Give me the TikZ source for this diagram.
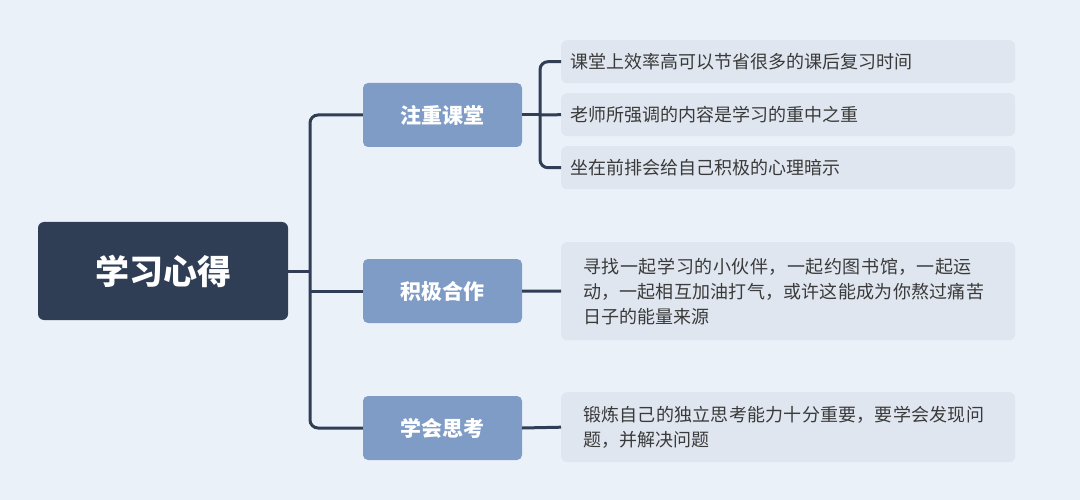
\documentclass[tikz,border=0pt]{standalone}
\usepackage{fontspec}
\setmainfont{Noto Sans CJK SC}
\XeTeXlinebreaklocale "zh"
\XeTeXlinebreakskip=0pt plus 1pt
\begin{document}
\begin{tikzpicture}[x=1pt,y=-1pt,
  line/.style={draw=linec,line width=3pt,rounded corners=8pt},
  root/.style={fill=rootc,rounded corners=6pt,text=white,font=\fontsize{34}{40}\selectfont\bfseries,minimum width=250pt,minimum height=98pt,inner sep=0},
  br/.style={fill=brc,rounded corners=5pt,text=white,font=\fontsize{21}{25}\selectfont\bfseries,minimum width=159pt,minimum height=64pt,inner sep=0},
  leaf/.style={fill=leafc,rounded corners=6pt,text=textc,font=\fontsize{18}{25}\selectfont,minimum width=454pt,inner xsep=9pt,inner ysep=0pt,anchor=north west,text width=436pt,align=left}]
\definecolor{bg}{HTML}{EBF1F9}
\definecolor{linec}{HTML}{2F3E55}
\definecolor{rootc}{HTML}{2F3E55}
\definecolor{brc}{HTML}{7F9CC6}
\definecolor{leafc}{HTML}{DFE6EF}
\definecolor{textc}{HTML}{3A3A3A}
\fill[bg] (0,0) rectangle (1080,500);
\useasboundingbox (0,0) rectangle (1080,500);
\node[root] (r) at (163,271) {学习心得};
\node[br] (b1) at (442.5,115) {注重课堂};
\node[br] (b2) at (442.5,291) {积极合作};
\node[br] (b3) at (442.5,428) {学会思考};
\node[leaf,minimum height=43pt] (l1) at (561,40) {课堂上效率高可以节省很多的课后复习时间};
\node[leaf,minimum height=43pt] (l2) at (561,93) {老师所强调的内容是学习的重中之重};
\node[leaf,minimum height=43pt] (l3) at (561,146) {坐在前排会给自己积极的心理暗示};
\node[leaf,minimum height=98pt,text width=410pt] (l4) at (561,242) {寻找一起学习的小伙伴，一起约图书馆，一起运动，一起相互加油打气，或许这能成为你熬过痛苦日子的能量来源};
\node[leaf,minimum height=70pt,text width=410pt] (l5) at (561,392) {锻炼自己的独立思考能力十分重要，要学会发现问题，并解决问题};
\coordinate (t) at (310,271);
\coordinate (t2) at (310,291);
\draw[line] (r.east) -- (t);
\draw[line] (b1.west) -| (t) |- (b3.west);
\draw[line] (t2) -- (b2.west);
\coordinate (s) at (540,115);
\draw[line] (b1.east) -- (s);
\draw[line] (l1.west) -| (s) |- (l3.west);
\draw[line] (s) -- (l2.west);
\draw[line] (b2.east) -- (l4.west);
\draw[line] (b3.east) -- (l5.west);
\end{tikzpicture}
\end{document}
